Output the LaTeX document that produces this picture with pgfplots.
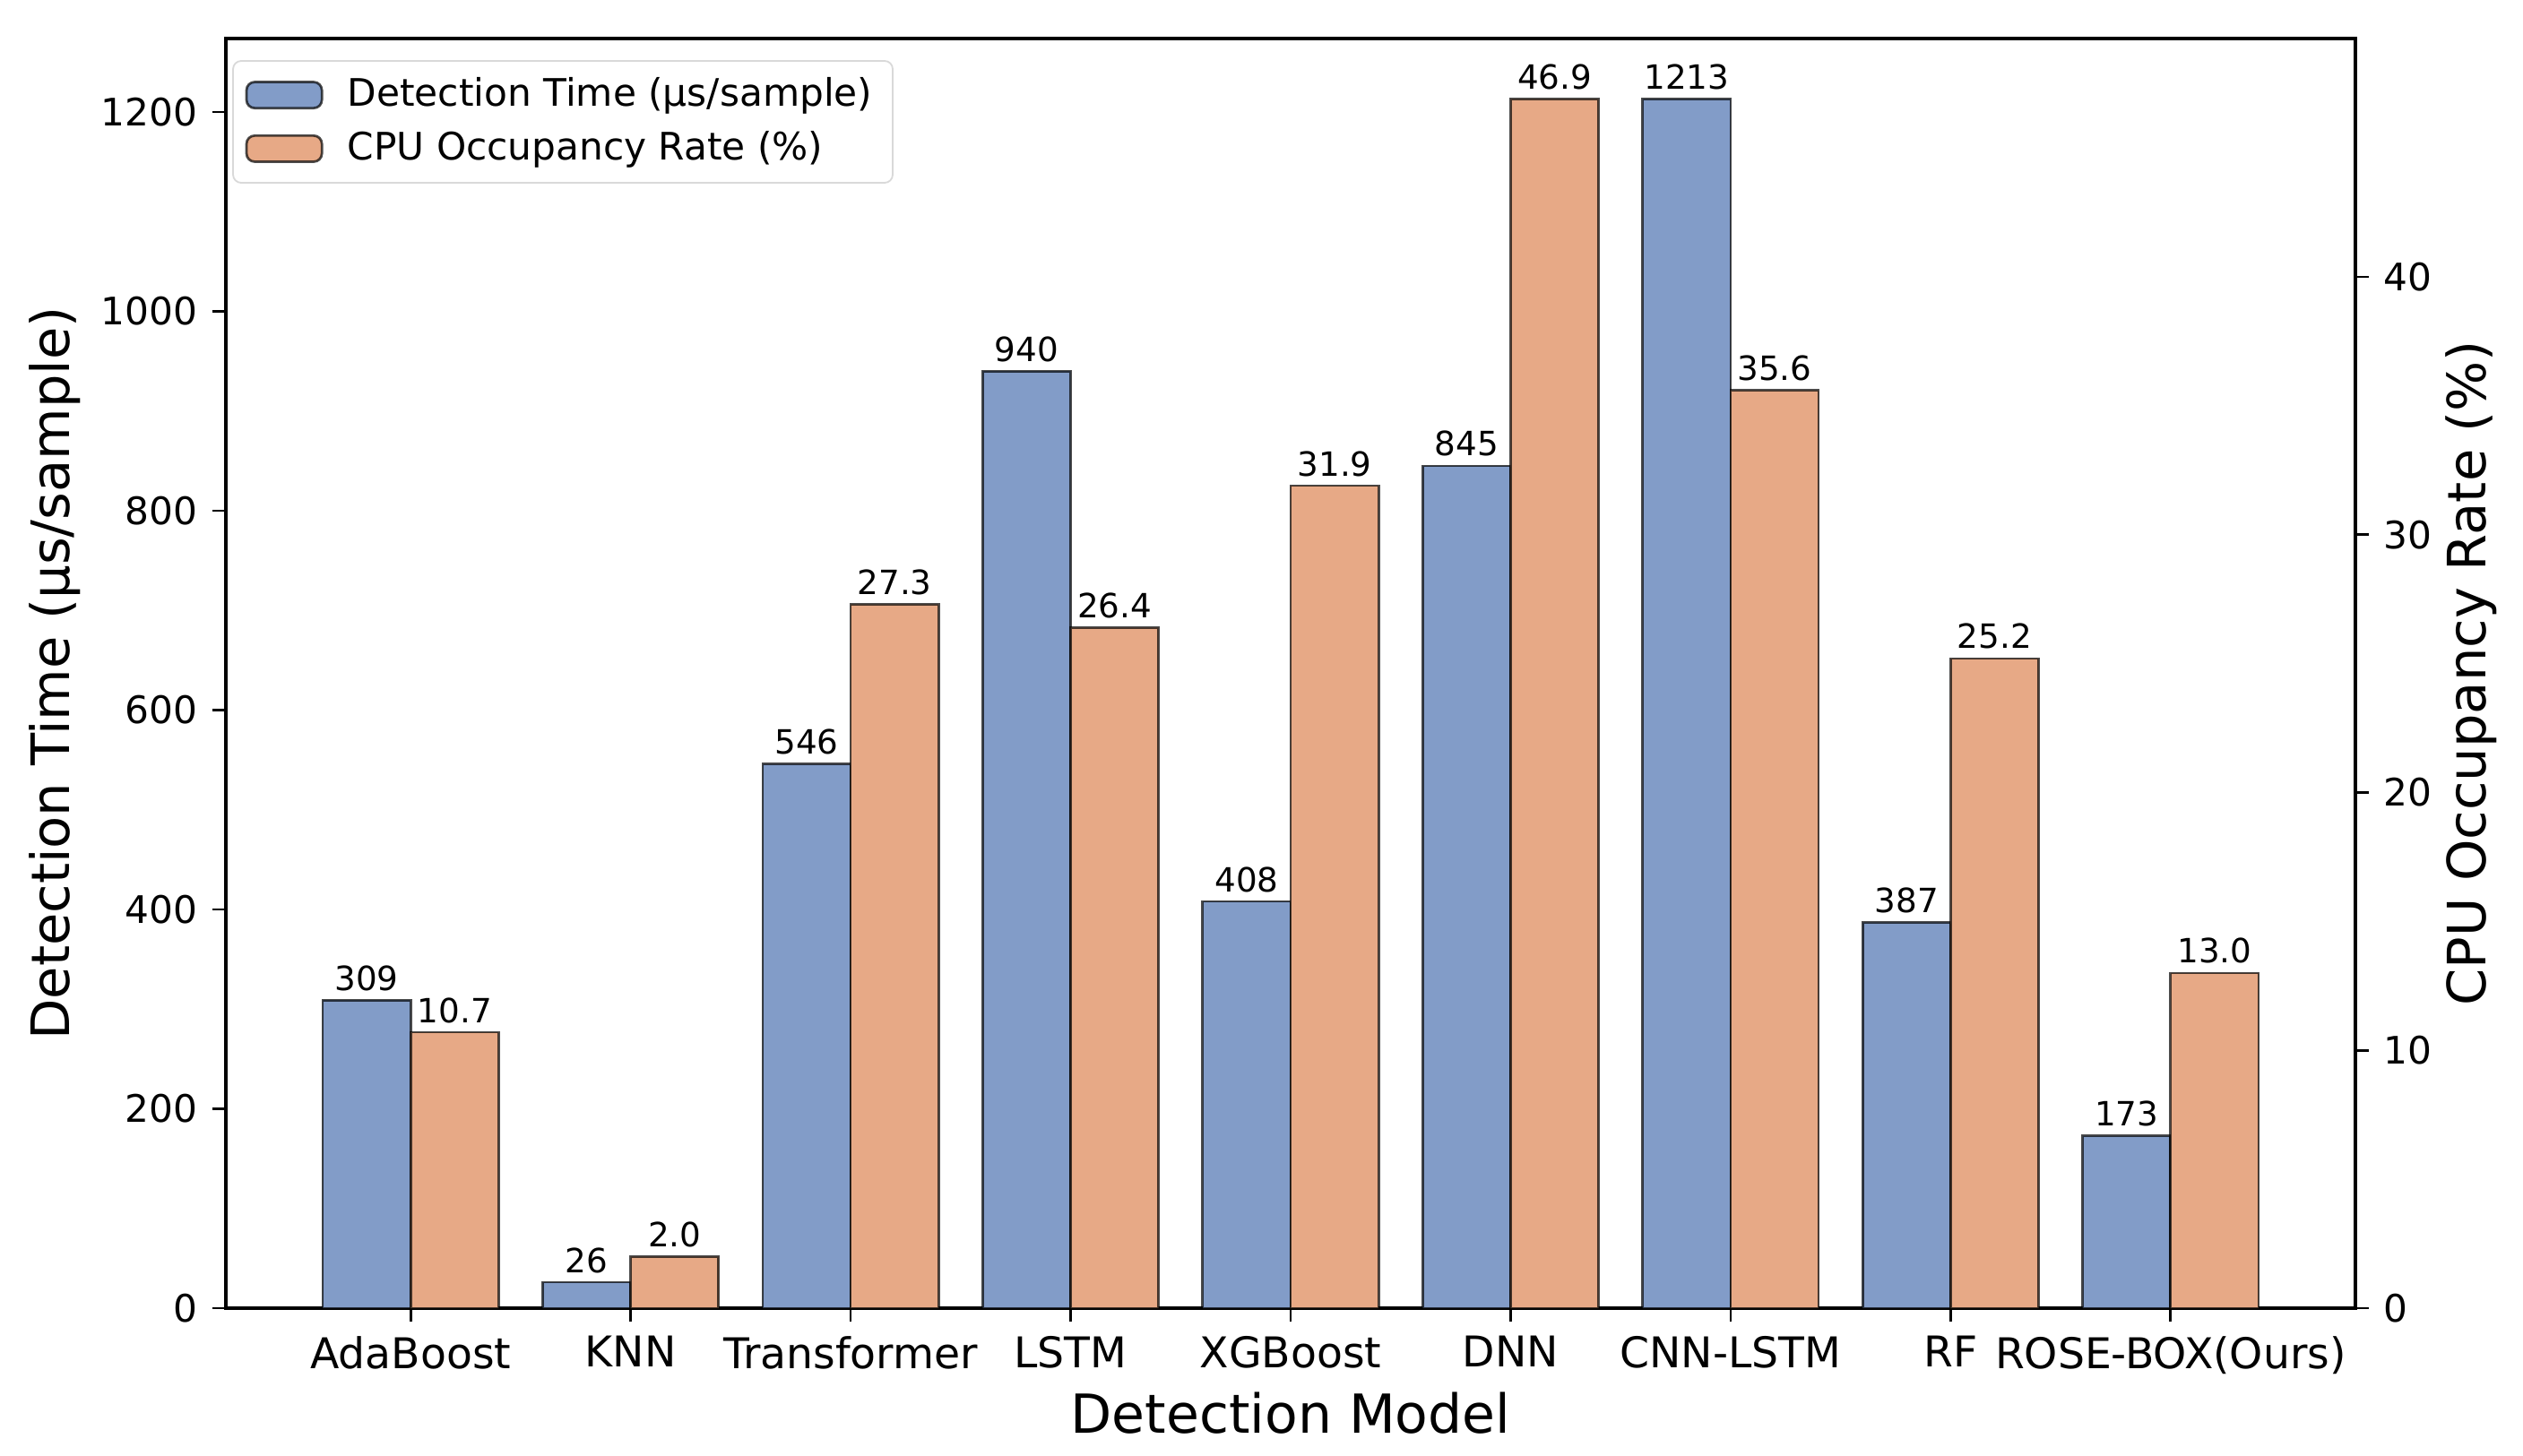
\documentclass[border=0pt]{standalone}
\usepackage{fontspec}
\setmainfont{DejaVu Sans}
\usepackage{pgfplots}
\pgfplotsset{compat=1.18}
\definecolor{cblue}{RGB}{130,156,200}
\definecolor{corange}{RGB}{231,169,134}
\pgfplotsset{
  common/.style={
    at={(55.44pt,36.08pt)}, anchor=south west,
    width=522.72pt, height=311.74pt, scale only axis,
    xmin=-0.84, xmax=8.84, ymin=0,
    ybar, bar width=0.4,
    tick align=outside, major tick length=3.4pt,
    every tick/.style={black, line width=0.6pt},
    axis line style={line width=0.7pt},
    /pgf/number format/assume math mode=true,
    /pgf/number format/1000 sep={},
    nodes near coords,
    every node near coord/.append style={font=\fontsize{8.2}{9}\selectfont, black, inner sep=2pt},
    yticklabel style={font=\fontsize{9.3}{11}\selectfont},
    xticklabel style={font=\fontsize{10.4}{12}\selectfont},
  },
  barimg/.style={legend image code/.code={\draw[##1] (0pt,-3.2pt) rectangle (18.5pt,3.2pt);}},
}
\begin{document}
\begin{tikzpicture}
\path[use as bounding box] (0,0) rectangle (619.3pt,357.28pt);
\begin{axis}[common, name=ax,
  ymax=1273.65,
  xtick={0,...,8},
  xticklabels={AdaBoost, KNN, Transformer, LSTM, XGBoost, DNN, CNN-LSTM, RF, ROSE-BOX(Ours)},
  ytick={0,200,...,1200},
  xtick pos=bottom, ytick pos=left,
  xlabel={Detection Model},
  ylabel={Detection Time (µs/sample)},
  every axis x label/.style={at={(axis description cs:0.5,-0.0824)}, anchor=center, font=\fontsize{13.2}{15}\selectfont},
  every axis y label/.style={at={(axis description cs:-0.0804,0.5)}, anchor=center, rotate=90, font=\fontsize{13}{15}\selectfont},
  legend style={at={(axis description cs:0.003,0.983)}, anchor=north west,
    draw=black!15, rounded corners=2pt, font=\fontsize{9.3}{11}\selectfont,
    inner xsep=3pt, inner ysep=1.8pt,
    nodes={inner ysep=2.3pt, inner xsep=2pt},
    /tikz/every odd column/.append style={column sep=4pt}},
  legend cell align=left,
]
\addplot[barimg, fill=cblue, draw=black, draw opacity=0.7, line width=0.6pt, bar shift=-0.2]
  coordinates {(0,309) (1,26) (2,546) (3,940) (4,408) (5,845) (6,1213) (7,387) (8,173)};
\addlegendentry{Detection Time (µs/sample)}
\addlegendimage{barimg, fill=corange, draw=black, draw opacity=0.7, line width=0.6pt}
\addlegendentry{CPU Occupancy Rate (\%)}
\end{axis}
\begin{axis}[common,
  ymax=49.245,
  axis y line*=right, axis x line=none,
  ytick={0,10,...,40},
  ylabel={CPU Occupancy Rate (\%)},
  every axis y label/.style={at={(axis description cs:1.0545,0.5)}, anchor=center, rotate=90, font=\fontsize{13}{15}\selectfont},
  nodes near coords={\pgfmathprintnumber[fixed, fixed zerofill, precision=1]{\pgfplotspointmeta}},
]
\addplot[fill=corange, draw=black, draw opacity=0.7, line width=0.6pt, bar shift=0.2]
  coordinates {(0,10.7) (1,2.0) (2,27.3) (3,26.4) (4,31.9) (5,46.9) (6,35.6) (7,25.2) (8,13.0)};
\end{axis}
\end{tikzpicture}
\end{document}
